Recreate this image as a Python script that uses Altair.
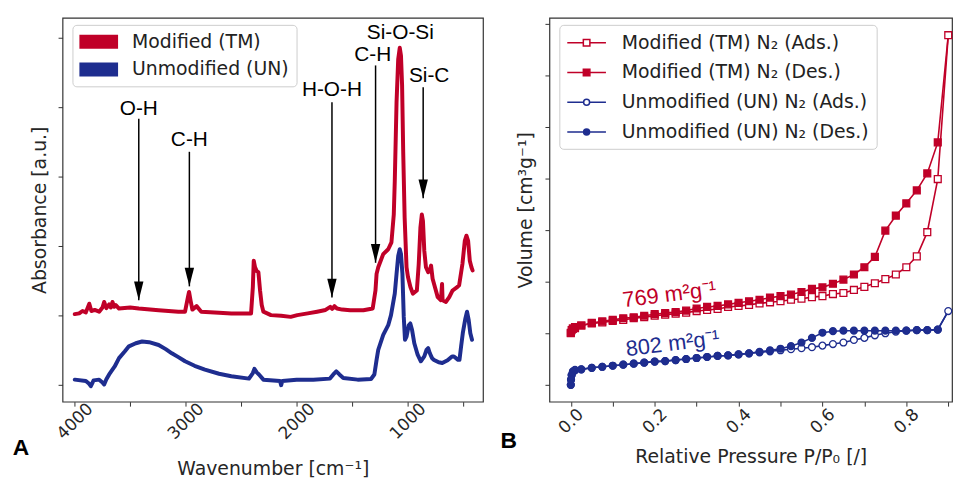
import altair as alt
import pandas as pd

RED = "#C00028"
BLUE = "#1E2D8F"

# ---------------- Panel A : FTIR spectra ----------------
spec_series = ["Modified (TM)", "Unmodified (UN)"]

tm_wn = [4000, 3960, 3930, 3900, 3869, 3850, 3820, 3780, 3750, 3735, 3715, 3690, 3675, 3660, 3645, 3630, 3601,
         3500, 3423, 3244, 3066, 3006, 2980, 2970, 2955, 2940, 2902, 2860, 2700, 2589, 2411, 2395, 2387, 2375,
         2360, 2345, 2330, 2315, 2300, 2232, 2140, 2054, 1994, 1900, 1816, 1740, 1697, 1680, 1660, 1637, 1590,
         1518, 1399, 1315, 1290, 1280, 1265, 1220, 1175, 1146, 1125, 1116, 1100, 1085, 1071, 1060, 1050, 1040,
         1027, 1010, 997, 975, 953, 917, 900, 885, 872, 862, 850, 835, 815, 800, 789, 775, 750, 729, 700, 690,
         685, 655, 625, 596, 560, 536, 506, 485, 470, 455, 440, 425, 415]
tm_abs = [0.203, 0.205, 0.212, 0.208, 0.233, 0.212, 0.215, 0.210, 0.222, 0.238, 0.220, 0.231, 0.222, 0.238, 0.224,
          0.229, 0.219, 0.222, 0.219, 0.214, 0.210, 0.210, 0.252, 0.267, 0.240, 0.216, 0.226, 0.210, 0.207, 0.205,
          0.205, 0.281, 0.357, 0.338, 0.327, 0.324, 0.271, 0.229, 0.210, 0.200, 0.198, 0.195, 0.200, 0.205, 0.210,
          0.215, 0.224, 0.218, 0.226, 0.219, 0.216, 0.214, 0.214, 0.219, 0.271, 0.319, 0.338, 0.376, 0.390, 0.410,
          0.490, 0.586, 0.814, 0.938, 0.971, 0.948, 0.862, 0.671, 0.481, 0.338, 0.310, 0.281, 0.262, 0.271, 0.348,
          0.452, 0.490, 0.471, 0.386, 0.338, 0.324, 0.329, 0.343, 0.305, 0.276, 0.252, 0.243, 0.290, 0.243, 0.238,
          0.252, 0.271, 0.279, 0.286, 0.348, 0.414, 0.429, 0.414, 0.357, 0.338, 0.329]

un_wn = [4000, 3900, 3870, 3855, 3830, 3780, 3750, 3735, 3715, 3690, 3640, 3601, 3550, 3512, 3450, 3393, 3330,
         3244, 3180, 3125, 3066, 3006, 2920, 2827, 2700, 2589, 2430, 2395, 2381, 2360, 2340, 2300, 2150, 2140,
         2130, 2000, 1850, 1700, 1670, 1643, 1615, 1580, 1450, 1330, 1300, 1280, 1265, 1220, 1175, 1150, 1116,
         1100, 1085, 1071, 1060, 1047, 1035, 1024, 1010, 990, 976, 960, 940, 910, 881, 850, 830, 815, 800, 780,
         762, 720, 688, 640, 600, 583, 545, 533, 518, 503, 480, 465, 450, 435, 420]
un_abs = [0.014, 0.010, 0.002, -0.005, 0.012, 0.014, 0.006, 0.000, 0.015, 0.029, 0.052, 0.076, 0.095, 0.110, 0.119,
          0.124, 0.122, 0.114, 0.102, 0.090, 0.079, 0.067, 0.054, 0.043, 0.031, 0.024, 0.017, 0.033, 0.045, 0.035,
          0.029, 0.014, 0.010, -0.002, 0.010, 0.014, 0.014, 0.017, 0.029, 0.038, 0.029, 0.019, 0.014, 0.016, 0.029,
          0.071, 0.100, 0.143, 0.171, 0.200, 0.262, 0.319, 0.371, 0.390, 0.376, 0.319, 0.195, 0.129, 0.138, 0.171,
          0.176, 0.157, 0.119, 0.086, 0.067, 0.081, 0.100, 0.105, 0.090, 0.076, 0.071, 0.064, 0.062, 0.070, 0.081,
          0.081, 0.071, 0.071, 0.110, 0.148, 0.190, 0.210, 0.186, 0.148, 0.129]

arrow_wn = [3423, 2967, 1682, 1289, 860]
arrow_tail = [0.766, 0.671, 0.814, 0.920, 0.857]
arrow_head = [0.243, 0.283, 0.251, 0.351, 0.537]
band_text = ["O-H", "C-H", "H-O-H", "C-H", "Si-O-Si", "Si-C"]
band_wn = [3423, 2967, 1682, 1315, 1066, 806]
band_y = [0.794, 0.706, 0.849, 0.949, 1.014, 0.889]

wn_ticks = [4000, 3500, 3000, 2500, 2000, 1500, 1000, 500]
abs_ticks = [0.0, 0.1, 0.2, 0.3, 0.4, 0.5, 0.6, 0.7, 0.8, 0.9, 1.0]

# ---------------- Panel B : N2 isotherms ----------------
iso_series = ["Modified (TM) N₂ (Ads.)", "Modified (TM) N₂ (Des.)",
              "Unmodified (UN) N₂ (Ads.)", "Unmodified (UN) N₂ (Des.)"]
iso_codes = ["tm_ads", "tm_des", "un_ads", "un_des"]

tm_ads_p = [0.0, 0.005, 0.01, 0.025, 0.05, 0.075, 0.1, 0.125, 0.15, 0.175, 0.2, 0.225, 0.25, 0.275, 0.3, 0.325,
            0.35, 0.375, 0.4, 0.425, 0.45, 0.475, 0.5, 0.525, 0.55, 0.575, 0.6, 0.625, 0.65, 0.675, 0.7, 0.725,
            0.75, 0.775, 0.8, 0.825, 0.85, 0.875, 0.9]
tm_ads_v = [200, 209, 212, 215, 219, 221, 224, 226, 229, 231, 234, 236, 238, 240, 243, 245, 247, 251, 253, 255,
            258, 260, 262, 265, 267, 270, 272, 276, 278, 284, 290, 297, 305, 314, 328, 349, 396, 499, 778]

tm_des_p = [0.9, 0.875, 0.85, 0.825, 0.8, 0.775, 0.75, 0.725, 0.7, 0.675, 0.65, 0.625, 0.6, 0.575, 0.55, 0.525,
            0.5, 0.475, 0.45, 0.425, 0.4, 0.375, 0.35, 0.325, 0.3, 0.275, 0.25, 0.225, 0.2, 0.175, 0.15, 0.125,
            0.1, 0.075, 0.05, 0.025, 0.01, 0.005, 0.002, 0.0]
tm_des_v = [778, 570, 510, 477, 452, 428, 399, 348, 328, 314, 304, 296, 289, 286, 280, 275, 272, 269, 265, 262,
            259, 256, 253, 251, 248, 244, 241, 239, 237, 234, 231, 229, 226, 223, 220, 215, 210, 209, 206, 201]

un_ads_p = [0.0, 0.0005, 0.002, 0.005, 0.01, 0.025, 0.05, 0.075, 0.1, 0.125, 0.15, 0.175, 0.2, 0.225, 0.25,
            0.275, 0.3, 0.325, 0.35, 0.375, 0.4, 0.425, 0.45, 0.475, 0.5, 0.525, 0.55, 0.575, 0.6, 0.625, 0.65,
            0.675, 0.7, 0.725, 0.75, 0.775, 0.8, 0.825, 0.85, 0.875, 0.9]
un_ads_v = [100, 110, 119, 126, 129, 130, 133, 135, 137, 139, 141, 143, 145, 146, 148, 150, 152, 154, 156, 157,
            159, 161, 163, 165, 167, 169, 171, 173, 176, 179, 182, 187, 191, 196, 200, 203, 205, 206, 206, 207, 243]

un_des_p = [0.9, 0.875, 0.85, 0.825, 0.8, 0.775, 0.75, 0.725, 0.7, 0.675, 0.65, 0.625, 0.6, 0.575, 0.55, 0.525,
            0.5, 0.475, 0.45, 0.425, 0.4, 0.375, 0.35, 0.325, 0.3, 0.275, 0.25, 0.225, 0.2, 0.175, 0.15, 0.125,
            0.1, 0.075, 0.05, 0.025, 0.01, 0.005, 0.002, 0.0005, 0.0]
un_des_v = [243, 207, 206, 206, 205, 205, 205, 205, 205, 205, 205, 204, 201, 191, 182, 175, 170, 167, 164, 161,
            159, 157, 156, 154, 152, 150, 148, 146, 145, 143, 141, 139, 137, 135, 133, 130, 128, 125, 119, 110, 100]

bet_text = ["769 m²g⁻¹", "802 m²g⁻¹"]
bet_p = [0.235, 0.243]
bet_v = [275, 180]

p_ticks = [0.0, 0.1, 0.2, 0.3, 0.4, 0.5, 0.6, 0.7, 0.8, 0.9]
v_ticks = [100, 200, 300, 400, 500, 600, 700, 800]

# ---------------- tables ----------------
rows = []
for name, xs, ys in [(spec_series[0], tm_wn, tm_abs), (spec_series[1], un_wn, un_abs)]:
    for i, (x, y) in enumerate(zip(xs, ys)):
        rows.append({"series": name, "wn": x, "a": y, "i": i})
df_spec = pd.DataFrame(rows)

df_arrow = pd.DataFrame({"wn": arrow_wn, "a": arrow_tail, "head": arrow_head})
df_band = pd.DataFrame({"wn": band_wn, "a": band_y, "t": band_text})

rows = []
for k, ps, vs in [(0, tm_ads_p, tm_ads_v), (2, un_ads_p, un_ads_v), (1, tm_des_p, tm_des_v), (3, un_des_p, un_des_v)]:
    for i, (p, v) in enumerate(zip(ps, vs)):
        marker = not (k in (1, 3) and p >= 0.9)
        rows.append({"series": iso_series[k], "kind": iso_codes[k], "p": p, "v": v, "i": i, "marker": marker})
df_iso = pd.DataFrame(rows)
df_bet = pd.DataFrame({"t": bet_text, "p": bet_p, "v": bet_v, "k": [0, 1]})

# ---------------- styling helpers ----------------
RECT_PATH = "M-1,-0.7H2.9V0.7H-1Z"
SQ_PATH = "M-1,0H0.62M1.28,0H2.9M0.62,-0.33H1.28V0.33H0.62Z"
CI_PATH = "M-1,0H0.65M1.25,0H2.9M1.25,0A0.3,0.3,0,1,1,0.65,0A0.3,0.3,0,1,1,1.25,0Z"
ARROW_PATH = "M-0.9,-3.6L0.9,-3.6L0,0Z"

W_A, W_B, H = 424, 406, 387

xA = alt.X("wn:Q", scale=alt.Scale(domain=[321, 4110], reverse=True, nice=False, zero=False),
           axis=alt.Axis(title="Wavenumber [cm⁻¹]", values=wn_ticks,
                         labelExpr="datum.value % 1000 == 0 ? format(datum.value, 'd') : ''",
                         labelAngle=-45, labelAlign="center", labelBaseline="middle",
                         labelPadding=15, titlePadding=18, tickSize=4.5))
yA = alt.Y("a:Q", scale=alt.Scale(domain=[-0.0495, 1.057], nice=False, zero=False),
           axis=alt.Axis(title="Absorbance [a.u.]", values=abs_ticks, labels=False,
                         tickSize=4.5, titlePadding=8))

legA = alt.Legend(
    title=None, orient="none", legendX=10, legendY=7,
    symbolType=RECT_PATH, symbolSize=400, symbolStrokeWidth=0,
    symbolFillColor=alt.ExprRef(expr="datum.value == 'Modified (TM)' ? '%s' : '%s'" % (RED, BLUE)),
    symbolOpacity=1, labelLimit=400,
    labelFont="DejaVu Sans", labelFontSize=19, labelColor="#222222",
    labelOffset=33, rowPadding=8, padding=7,
    strokeColor="#cccccc", fillColor="rgba(255,255,255,0.85)", cornerRadius=4,
)

spec = alt.Chart(df_spec).mark_line(strokeWidth=4, strokeJoin="round", strokeCap="round").encode(
    x=xA, y=yA,
    color=alt.Color("series:N", scale=alt.Scale(domain=spec_series, range=[RED, BLUE]), legend=legA),
    order="i:Q",
)
arrows = alt.Chart(df_arrow).mark_rule(color="black", strokeWidth=1.5).encode(
    x="wn:Q", y="a:Q", y2="head:Q")
heads = alt.Chart(df_arrow).mark_point(shape=ARROW_PATH, filled=True, color="black", size=110, opacity=1).encode(
    x="wn:Q", y=alt.Y("head:Q", title="Absorbance [a.u.]"))
bands = alt.Chart(df_band).mark_text(font="Liberation Sans", fontSize=21, color="black",
                                     align="center", baseline="middle").encode(
    x="wn:Q", y="a:Q", text="t:N")
labA = alt.Chart(pd.DataFrame({"t": ["A"]})).mark_text(
    font="Liberation Sans", fontSize=23, fontWeight="bold", color="black", align="center", baseline="middle"
).encode(x=alt.value(-42), y=alt.value(434), text="t:N")

panelA = alt.layer(spec, arrows, heads, bands, labA).properties(width=W_A, height=H)

xB = alt.X("p:Q", scale=alt.Scale(domain=[-0.051, 0.909], nice=False, zero=False),
           axis=alt.Axis(title="Relative Pressure P/P₀ [/]", values=p_ticks,
                         labelExpr="abs(round(datum.value * 10) % 2) == 0 ? format(datum.value, '.1f') : ''",
                         labelAngle=-45, labelAlign="center", labelBaseline="middle",
                         labelPadding=15, titlePadding=12, tickSize=4.5))
yB = alt.Y("v:Q", scale=alt.Scale(domain=[67.3, 811.5], nice=False, zero=False),
           axis=alt.Axis(title="Volume [cm³g⁻¹]", values=v_ticks, labels=False, tickSize=4.5, titlePadding=9))

shape_sig = "indexof(datum.value, 'Modified') == 0 ? '%s' : '%s'" % (SQ_PATH, CI_PATH)
fill_sig = ("indexof(datum.value, 'Ads') >= 0 ? 'white' : "
            "(indexof(datum.value, 'Modified') == 0 ? '%s' : '%s')" % (RED, BLUE))
legB = alt.Legend(
    title=None, orient="none", legendX=10, legendY=7,
    symbolType=alt.ExprRef(expr=shape_sig), symbolSize=400, symbolStrokeWidth=1.5,
    symbolFillColor=alt.ExprRef(expr=fill_sig), symbolOpacity=1, labelLimit=400,
    labelFont="DejaVu Sans", labelFontSize=19, labelColor="#222222",
    labelOffset=34, rowPadding=9, padding=7,
    strokeColor="#cccccc", fillColor="rgba(255,255,255,0.85)", cornerRadius=4,
)

iso_colors = [RED, RED, BLUE, BLUE]
lines = alt.Chart(df_iso).mark_line(strokeWidth=1.6).encode(
    x=xB, y=yB,
    color=alt.Color("series:N", scale=alt.Scale(domain=iso_series, range=iso_colors), legend=legB),
    order="i:Q",
)
pts = alt.Chart(df_iso).transform_filter("datum.marker").mark_point(
    filled=True, size=48, strokeWidth=1.3, opacity=1).encode(
    x="p:Q", y="v:Q",
    shape=alt.Shape("kind:N", scale=alt.Scale(domain=iso_codes, range=["square", "square", "circle", "circle"]),
                    legend=None),
    fill=alt.Fill("kind:N", scale=alt.Scale(domain=iso_codes, range=["white", RED, "white", BLUE]), legend=None),
    stroke=alt.Stroke("kind:N", scale=alt.Scale(domain=iso_codes, range=iso_colors), legend=None),
)
bet_tm = alt.Chart(df_bet).transform_filter("datum.k == 0").mark_text(
    font="Liberation Sans", fontSize=22, color=RED, angle=353, align="center", baseline="middle").encode(
    x="p:Q", y="v:Q", text="t:N")
bet_un = alt.Chart(df_bet).transform_filter("datum.k == 1").mark_text(
    font="Liberation Sans", fontSize=22, color=BLUE, angle=353, align="center", baseline="middle").encode(
    x="p:Q", y="v:Q", text="t:N")
labB = alt.Chart(pd.DataFrame({"t": ["B"]})).mark_text(
    font="Liberation Sans", fontSize=23, fontWeight="bold", color="black", align="center", baseline="middle"
).encode(x=alt.value(-41), y=alt.value(427), text="t:N")

panelB = alt.layer(lines, pts, bet_tm, bet_un, labB).properties(width=W_B, height=H)

chart = alt.hconcat(panelA, panelB, spacing=16).resolve_scale(
    color="independent", shape="independent", fill="independent", stroke="independent"
).resolve_legend(color="independent").properties(
    padding={"left": 4, "top": 7, "right": 0, "bottom": 0}
).configure_view(stroke="#333333", strokeWidth=1.2).configure_axis(
    domain=False, grid=False, tickColor="#333333", tickWidth=1,
    labelFont="DejaVu Sans", labelFontSize=17, labelColor="#262626",
    titleFont="DejaVu Sans", titleFontSize=19, titleFontWeight="normal", titleColor="#262626",
)

chart.save("out.html", embed_options={"renderer": "svg", "actions": False})
